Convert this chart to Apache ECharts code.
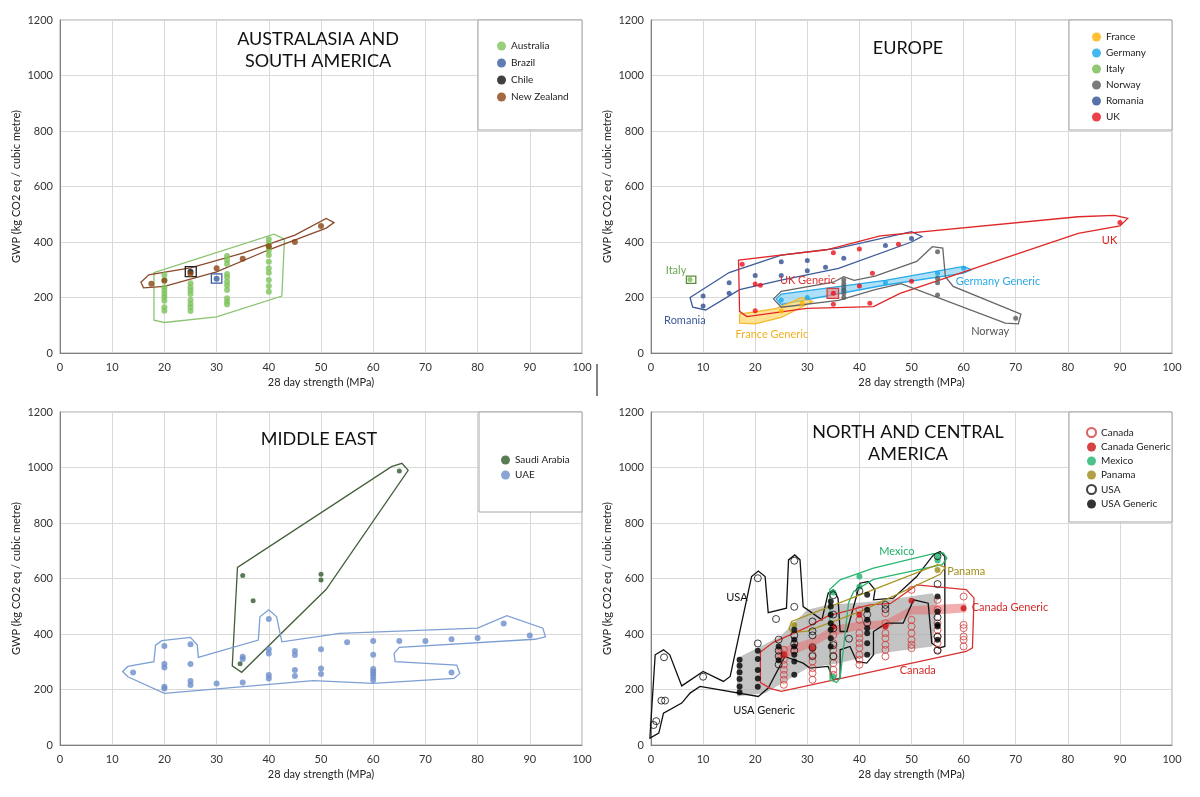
<!DOCTYPE html>
<html><head><meta charset="utf-8">
<script src="https://cdn.jsdelivr.net/npm/echarts@6/dist/echarts.min.js"></script>
<style>html,body{margin:0;padding:0;background:#fff}#c{width:1200px;height:797px}</style>
</head><body><div id="c"></div>
<script>
// ---------- axes ----------
const xMin = 0, xMax = 100, xStep = 10;
const yMin = 0, yMax = 1200, yStep = 200;
const xName = '28 day strength (MPa)';
const yName = 'GWP (kg CO2 eq / cubic metre)';
const panelTitles = ['AUSTRALASIA AND\nSOUTH AMERICA', 'EUROPE', 'MIDDLE EAST', 'NORTH AND CENTRAL\nAMERICA'];

// ---------- panel 1: Australasia & South America ----------
const australia = [[20,281],[20,263],[20,237],[20,225],[20,213],[20,201],[20,188],[20,165],[20,152],
  [25,251],[25,237],[25,225],[25,213],[25,191],[25,177],[25,165],[25,151],
  [32,350],[32,335],[32,321],[32,285],[32,273],[32,257],[32,243],[32,227],[32,197],[32,185],[32,175],
  [40,410],[40,395],[40,383],[40,369],[40,353],[40,329],[40,305],[40,289],[40,263],[40,241],[40,221]];
const brazil = [[30,268]];
const chile = [[25,293]];
const newZealand = [[17.5,250],[20,260],[25,285],[30,305],[35,340],[40,385],[45,400],[50,458]];
const australiaRegion = [[18,290],[41,428],[43,410],[42.5,205],[30,130],[20,110],[18,118],[18,290]];
const newZealandRegion = [[15.5,255],[17,282],[25,307],[35,360],[45,425],[51,485],[52.5,470],[51,450],[40,372],[30,292],[20,240],[16,235],[15.5,255]];
const chileBox = [[24,275],[26.1,275],[26.1,311],[24,311]];
const brazilBox = [[29,252],[31,252],[31,285],[29,285]];

// ---------- panel 2: Europe ----------
const france = [[25,151],[29,180]];
const germany = [[25,191],[30,200],[37,227],[45,253],[55,287],[60,305]];
const italy = [[7.5,265]];
const norway = [[37,263],[37,250],[37,238],[37,226],[37,214],[37,200],[55,365],[55,269],[55,253],[55,209],[70,125]];
const romania = [[10,205],[10,169],[15,253],[15,215],[20,279],[25,329],[25,279],[30,333],[30,296],[33.5,309],[37,341],[45,387],[50,413]];
const uk = [[17.5,320],[20,249],[21,244],[20,152],[35,361],[40,375],[47.5,392],[42.5,287],[40,241],[35,215],[35,176],[42,179],[50,259],[90,470]];
const romaniaRegion = [[7.5,200],[15,290],[25,353],[36,378],[50,437],[52,420],[50,400],[36,305],[25,263],[17,228],[10.5,155],[8,165],[7.5,200]];
const ukRegion = [[16.8,335],[33.7,372],[44,422],[82,491],[89,496],[91.5,485],[90,458],[82,431],[47.8,215],[42.7,167],[29.9,161],[18.4,131],[17,150],[16.8,335]];
const norwayRegion = [[23.5,195],[25,222],[35,255],[37,275],[39,262],[43,277],[51,330],[54,383],[56,378],[56.5,275],[58,240],[71,140],[70.5,105],[68,108],[48,250],[43,228],[36,190],[25,165],[23.5,195]];
const germanyGeneric = [[24,195],[25,212],[45,262],[60,312],[61.5,300],[60,288],[45,245],[25,175],[24,195]];
const franceGeneric = [[17,108],[17,140],[24,160],[29,200],[31,185],[25,128],[20,105],[17,108]];
const ukGeneric = [[33.8,197],[36,197],[36,233],[33.8,233]];
const italyBox = [[6.8,251],[8.6,251],[8.6,277],[6.8,277]];
const europeLabels = [['Italy',4.8,299],['Romania',6.5,119],['France Generic',23.2,68],['UK Generic',30.1,263],['Germany Generic',66.6,259],['Norway',65.1,79],['UK',88,404]];

// ---------- panel 3: Middle East ----------
const saudiArabia = [[35,611],[50,615],[50,595],[37,520],[34.5,293],[65,987]];
const uae = [[14,261],[20,357],[20,292],[20,279],[20,210],[20,204],[25,363],[25,292],[25,231],[25,216],[30,222],
  [35,318],[35,310],[35,225],[40,454],[40,345],[40,330],[40,252],[40,240],[45,339],[45,324],[45,270],[45,249],
  [50,345],[50,276],[50,256],[55,370],[60,375],[60,325],[60,274],[60,264],[60,256],[60,246],[60,234],
  [65,375],[70,375],[75,381],[75,261],[80,386],[85,438],[90,395]];
const saudiRegion = [[34,640],[33,285],[34.8,262],[51,561],[66.7,990],[65.5,1015],[63.5,1003],[34,640]];
const uaeRegion = [[12,265],[13,283],[18,300],[18.3,360],[19.5,376],[25,388],[26.3,360],[26.5,316],[38,378],[38.3,462],[40,487],[41.5,462],[42.5,372],[53.6,402],[80,421],[85.6,466],[92.5,421],[93,390],[91,381],[65,352],[64,330],[64.2,300],[76,288],[76.6,258],[75.5,240],[60,222],[48.5,232],[20,186],[13,246],[12,265]];

// ---------- panel 4: North & Central America ----------
const canada = [[25.5,343],[25.5,325],[25.5,307],[25.5,289],[25.5,271],[25.5,253],[25.5,235],[25.5,217],
  [31,355],[31,325],[31,301],[31,277],[31,259],[31,235],
  [35,397],[35,367],[35,343],[35,319],[35,295],[35,271],[35,253],
  [40,487],[40,451],[40,403],[40,385],[40,367],[40,349],[40,325],[40,307],[40,289],
  [45,475],[45,439],[45,403],[45,385],[45,361],[45,343],[45,319],
  [50,559],[50,451],[50,427],[50,403],[50,379],[50,361],[50,349],
  [55,523],[55,487],[55,439],[55,415],[55,391],[55,367],[55,343],
  [60,535],[60,433],[60,421],[60,391],[60,379],[60,355]];
const canadaGeneric = [[25.5,325],[31,349],[35,427],[40,469],[45,427],[50,520],[60,493]];
const mexico = [[35,550],[35,246],[40,607],[40,570],[55,680],[55,665]];
const panama = [[27.5,432],[55,631]];
const usa = [[0.5,72],[1,86],[2,160],[2.7,160],[2.5,316],[10,246],[20.5,601],[20.5,366],[24,454],[27.5,664],[27.5,498],
  [24.5,380],[24.5,340],[24.5,320],[24.5,290],[27.5,395],[27.5,365],[27.5,340],[31,445],[31,410],[31,395],[31,350],[31,320],
  [35,540],[35,470],[35,420],[35,360],[35,320],[38,383],[40,555],[41.5,470],[41.5,440],[45,505],[45,490],
  [55,680],[55,580],[55,460],[55,390],[55,340]];
const usaGeneric = [[17,307],[17,286],[17,262],[17,238],[17,211],[17,190],[20.5,340],[20.5,310],[20.5,270],[20.5,240],[20.5,210],
  [24.5,355],[24.5,305],[27.5,415],[27.5,379],[27.5,355],[27.5,325],[27.5,301],[27.5,253],
  [34.5,517],[34.5,499],[34.5,469],[34.5,439],[34.5,415],[34.5,385],[34.5,355],
  [41.5,541],[41.5,487],[41.5,451],[41.5,421],[41.5,403],[41.5,367],[41.5,325],
  [55,535],[55,481],[55,433],[55,427],[55,379]];
const usaRegion = [[-0.2,30],[0.8,325],[2.4,343],[3.6,325],[5.9,213],[10,265],[13.9,229],[15.2,247],[19.3,607],[20.6,627],[21.9,607],[22.5,477],[26,493],[26.4,667],[27.6,685],[28.6,667],[29.2,499],[32.8,451],[34,547],[35,559],[35.9,529],[36.3,409],[37.6,409],[40.1,583],[41.7,589],[43,559],[42.7,523],[46.5,529],[51,607],[54.2,685],[55.5,697],[56.4,679],[56.4,355],[55.2,349],[53.9,367],[53.2,511],[50.4,523],[48.4,439],[45.2,439],[42.7,409],[42.7,325],[41.4,295],[39.5,301],[38.2,355],[36.3,343],[36.3,241],[35,235],[34,283],[30.5,277],[29.2,295],[25.7,319],[22.5,205],[20.6,175],[9.4,211],[7.5,187],[5.9,151],[2.4,115],[1.5,43],[-0.2,25]];
const usaGenericRegion = [[16.5,175],[16.5,313],[24.8,391],[30,487],[34,505],[43,517],[54,547],[55,520],[54,355],[44,331],[36,295],[30,277],[22,187],[16.5,175]];
const canadaRegion = [[21,335],[23.5,370],[30,425],[34,465],[42,505],[46,510],[51,577],[60.5,560],[62,530],[61.7,350],[60.5,337],[25,193],[23,203],[21,225],[21,335]];
const canadaGenericRegion = [[24,345],[31,385],[35,430],[40,445],[45,450],[50,500],[55,505],[60.5,510],[60.5,478],[55,470],[50,470],[45,420],[40,415],[35,395],[31,355],[24,300]];
const mexicoRegion = [[34.3,560],[36.3,595],[42.7,637],[54.2,690],[56.1,692],[56.8,673],[55.9,650],[42.7,597],[38.9,553],[37.9,511],[36.3,241],[35.6,225],[34.4,235],[34.3,560]];
const panamaRegion = [[26.5,420],[27,445],[40,540],[55,650],[56.5,640],[55.5,615],[40,480],[30,410],[27,405],[26.5,420]];
const ncaLabels = [['USA',16.5,533],['USA Generic',21.7,126],['Mexico',47.2,696],['Panama',60.5,624],['Canada Generic',68.9,497],['Canada',51.2,270]];

// ---------- styling ----------
const FONT = 'Lato, "Open Sans", sans-serif';
const labelColors = {'Italy':'#6aa84f','Romania':'#3c5a9a','France Generic':'#f0b020','UK Generic':'#e03030','Germany Generic':'#2aaae8','Norway':'#555','UK':'#e02020',
  'USA':'#111','USA Generic':'#111','Mexico':'#1fae68','Panama':'#a08f1a','Canada Generic':'#d42a2a','Canada':'#d42a2a'};

const grids = [
  {left:60, top:20, width:522, height:333},
  {left:651, top:20, width:521, height:333},
  {left:60, top:412, width:522, height:333},
  {left:651, top:412, width:521, height:333}
];

function scatter(name, data, gi, color, size, open) {
  return {type:'scatter', name, data, xAxisIndex:gi, yAxisIndex:gi, symbol:'circle', symbolSize:size, z:5,
    itemStyle: open ? {color:'rgba(255,255,255,0)', borderColor:color, borderWidth:1} : {color:color},
    emphasis:{disabled:true}};
}
function region(name, pts, gi, stroke, fill, lw) {
  return {type:'custom', name, data:pts, xAxisIndex:gi, yAxisIndex:gi, silent:true, z:2, clip:false,
    renderItem: function(params, api) {
      if (params.dataIndex !== 0) return null;
      const p = pts.map(d => api.coord(d));
      return {type:'polygon', shape:{points:p}, style:{fill: fill || 'none', stroke: stroke || 'none', lineWidth: lw || 1.3}};
    }};
}
function annotations(list, gi) {
  return {type:'custom', name:'labels'+gi, data:list.map(l => [l[1], l[2]]), xAxisIndex:gi, yAxisIndex:gi, silent:true, z:6, clip:false,
    renderItem: function(params, api) {
      const l = list[params.dataIndex];
      const c = api.coord([l[1], l[2]]);
      return {type:'text', x:c[0], y:c[1], style:{text:l[0], fill:labelColors[l[0]], font:'11px ' + FONT, align:'center', verticalAlign:'middle'}};
    }};
}

const xAxes = grids.map((g, i) => ({
  type:'value', gridIndex:i, min:xMin, max:xMax, interval:xStep,
  name:xName, nameLocation:'middle', nameGap:24, nameTextStyle:{fontFamily:FONT, fontSize:11, color:'#222'},
  axisLine:{show:true, lineStyle:{color:'#7f7f7f'}}, axisTick:{show:false},
  axisLabel:{fontFamily:FONT, fontSize:11, color:'#333', margin:9, formatter: v => String(v)},
  splitLine:{show:true, lineStyle:{color:'#d9d9d9'}}
}));
const yAxes = grids.map((g, i) => ({
  type:'value', gridIndex:i, min:yMin, max:yMax, interval:yStep,
  name:yName, nameLocation:'middle', nameGap:38, nameRotate:90, nameTextStyle:{fontFamily:FONT, fontSize:11, color:'#222'},
  axisLine:{show:true, lineStyle:{color:'#7f7f7f'}}, axisTick:{show:false},
  axisLabel:{fontFamily:FONT, fontSize:11, color:'#333', margin:7, formatter: v => String(v)},
  splitLine:{show:true, lineStyle:{color:'#d9d9d9'}}
}));

const series = [
  // panel 1
  region('Australia region', australiaRegion, 0, '#8cc472'),
  region('New Zealand region', newZealandRegion, 0, '#8b4a2b'),
  region('Chile box', chileBox, 0, '#222'),
  region('Brazil box', brazilBox, 0, '#3a5ba0'),
  scatter('Australia', australia, 0, '#7dc35b', 6),
  scatter('Brazil', brazil, 0, '#3a5ba0', 6),
  scatter('Chile', chile, 0, '#111', 6),
  scatter('New Zealand', newZealand, 0, '#8b4513', 6),
  // panel 2
  region('Germany Generic', germanyGeneric, 1, '#2aaae8', 'rgba(120,205,245,0.6)'),
  region('France Generic', franceGeneric, 1, '#f5b92b', 'rgba(255,210,90,0.65)'),
  region('UK Generic', ukGeneric, 1, '#d04040', 'rgba(235,130,130,0.65)'),
  region('Italy box', italyBox, 1, '#5a8a3a'),
  region('Romania region', romaniaRegion, 1, '#3c5a9a'),
  region('UK region', ukRegion, 1, '#e02626'),
  region('Norway region', norwayRegion, 1, '#666'),
  scatter('France', france, 1, '#ffb000', 5),
  scatter('Germany', germany, 1, '#17a6ea', 5),
  scatter('Italy', italy, 1, '#75b952', 5),
  scatter('Norway', norway, 1, '#595959', 5),
  scatter('Romania', romania, 1, '#2e4f93', 5),
  scatter('UK', uk, 1, '#e8101a', 5),
  annotations(europeLabels, 1),
  // panel 3
  region('Saudi region', saudiRegion, 2, '#44603a'),
  region('UAE region', uaeRegion, 2, '#7d9fd3'),
  scatter('Saudi Arabia', saudiArabia, 2, '#2f5a2a', 5),
  scatter('UAE', uae, 2, '#6d8fcb', 6),
  // panel 4
  region('USA Generic region', usaGenericRegion, 3, null, 'rgba(175,175,175,0.75)'),
  region('Canada Generic region', canadaGenericRegion, 3, null, 'rgba(232,110,110,0.55)'),
  region('USA region', usaRegion, 3, '#111'),
  region('Canada region', canadaRegion, 3, '#d93030'),
  region('Mexico region', mexicoRegion, 3, '#2bb673'),
  region('Panama region', panamaRegion, 3, '#a8951f'),
  scatter('Canada', canada, 3, '#d23a3a', 7, true),
  scatter('Canada Generic', canadaGeneric, 3, '#cc1111', 6),
  scatter('Mexico', mexico, 3, '#1db36a', 6),
  scatter('Panama', panama, 3, '#9d8a17', 6),
  scatter('USA', usa, 3, '#111', 7, true),
  scatter('USA Generic', usaGeneric, 3, '#000', 6),
  annotations(ncaLabels, 3)
];

function legend(names, left, top, gap) {
  return {data:names, orient:'vertical', left, top, itemWidth:9, itemHeight:9, itemGap:gap, icon:'circle',
    textStyle:{fontFamily:FONT, fontSize:10, color:'#222'}, selectedMode:false, z:10};
}

const graphics = [
  {type:'rect', shape:{x:478, y:20, width:104, height:110}, style:{fill:'#fff', stroke:'#a6a6a6', lineWidth:1}, z:3},
  {type:'rect', shape:{x:1069, y:20, width:103, height:110}, style:{fill:'#fff', stroke:'#a6a6a6', lineWidth:1}, z:3},
  {type:'rect', shape:{x:479, y:412, width:103, height:100}, style:{fill:'#fff', stroke:'#a6a6a6', lineWidth:1}, z:3},
  {type:'rect', shape:{x:1069, y:412, width:103, height:110}, style:{fill:'#fff', stroke:'#a6a6a6', lineWidth:1}, z:3},
  {type:'text', x:318, y:28, style:{text:panelTitles[0], font:'18px ' + FONT, fill:'#111', align:'center', verticalAlign:'top', lineHeight:22}, z:10},
  {type:'text', x:908, y:37, style:{text:panelTitles[1], font:'18px ' + FONT, fill:'#111', align:'center', verticalAlign:'top', lineHeight:22}, z:10},
  {type:'text', x:319, y:428, style:{text:panelTitles[2], font:'18px ' + FONT, fill:'#111', align:'center', verticalAlign:'top', lineHeight:22}, z:10},
  {type:'text', x:908, y:421, style:{text:panelTitles[3], font:'18px ' + FONT, fill:'#111', align:'center', verticalAlign:'top', lineHeight:22}, z:10},
  {type:'line', shape:{x1:597, y1:364, x2:597, y2:396}, style:{stroke:'#333', lineWidth:1.2}}
];

const chart = echarts.init(document.getElementById('c'), null, {renderer:'canvas'});
chart.setOption({
  animation:false,
  backgroundColor:'#fff',
  grid: grids.map(g => Object.assign({show:true, borderColor:'#a6a6a6', borderWidth:1, backgroundColor:'transparent'}, g)),
  xAxis: xAxes,
  yAxis: yAxes,
  legend: [
    legend(['Australia','Brazil','Chile','New Zealand'], 492, 36, 7),
    legend(['France','Germany','Italy','Norway','Romania','UK'], 1087, 27, 6),
    legend(['Saudi Arabia','UAE'], 496, 450, 5),
    legend(['Canada','Canada Generic','Mexico','Panama','USA','USA Generic'], 1081, 422, 4)
  ],
  graphic: graphics,
  series: series
});
</script></body></html>
